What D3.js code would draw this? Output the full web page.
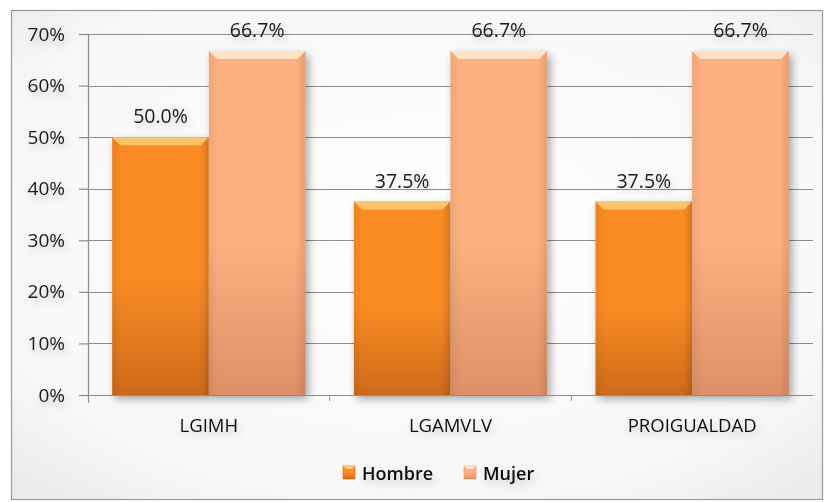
<!DOCTYPE html>
<html>
<head>
<meta charset="utf-8">
<script src="https://cdn.jsdelivr.net/npm/d3@7"></script>
<style>
  body { margin: 0; background: #fff; }
  svg { display: block; font-family: "Open Sans", "DejaVu Sans", sans-serif; }
</style>
</head>
<body>
<svg id="chart" width="825" height="502"></svg>
<script>
var categories = ["LGIMH", "LGAMVLV", "PROIGUALDAD"];
var seriesNames = ["Hombre", "Mujer"];
var hombre = [0.500, 0.375, 0.375];
var mujer = [0.667, 0.667, 0.667];
var yTicks = [0, 0.1, 0.2, 0.3, 0.4, 0.5, 0.6, 0.7];

var svg = d3.select("#chart");
var margin = { top: 34, right: 12, bottom: 107, left: 88 };
var width = 813 - margin.left;
var height = 395 - margin.top;

var colors = {
  Hombre: { top: "#ffc46a", main: "#f98b24", dark: "#cd6a1a" },
  Mujer: { top: "#ffe2c4", main: "#fdb07f", dark: "#dd9068" }
};

var defs = svg.append("defs");

// soft background like the spreadsheet chart area
var bg = defs.append("radialGradient").attr("id", "bg")
    .attr("cx", "50%").attr("cy", "45%").attr("r", "70%");
bg.append("stop").attr("offset", "0%").attr("stop-color", "#ffffff");
bg.append("stop").attr("offset", "80%").attr("stop-color", "#f7f7f7");
bg.append("stop").attr("offset", "100%").attr("stop-color", "#ececec");

seriesNames.forEach(function (s) {
  var g = defs.append("linearGradient").attr("id", "grad-" + s)
      .attr("x1", 0).attr("y1", 0).attr("x2", 0).attr("y2", 1);
  g.append("stop").attr("offset", "0%").attr("stop-color", colors[s].main);
  g.append("stop").attr("offset", "55%").attr("stop-color", colors[s].main);
  g.append("stop").attr("offset", "100%").attr("stop-color", colors[s].dark);
  var h = defs.append("linearGradient").attr("id", "side-" + s)
      .attr("x1", 0).attr("y1", 0).attr("x2", 1).attr("y2", 0);
  h.append("stop").attr("offset", "0%").attr("stop-color", "#000").attr("stop-opacity", 0.06);
  h.append("stop").attr("offset", "10%").attr("stop-color", "#000").attr("stop-opacity", 0);
  h.append("stop").attr("offset", "90%").attr("stop-color", "#000").attr("stop-opacity", 0);
  h.append("stop").attr("offset", "100%").attr("stop-color", "#000").attr("stop-opacity", 0.1);
});

var shadow = defs.append("filter").attr("id", "shadow")
    .attr("x", "-20%").attr("y", "-20%").attr("width", "150%").attr("height", "140%");
shadow.append("feGaussianBlur").attr("in", "SourceAlpha").attr("stdDeviation", 4);
shadow.append("feOffset").attr("dx", 3).attr("dy", 4).attr("result", "b");
shadow.append("feComponentTransfer").append("feFuncA").attr("type", "linear").attr("slope", 0.35);
var merge = shadow.append("feMerge");
merge.append("feMergeNode");
merge.append("feMergeNode").attr("in", "SourceGraphic");

var textGlow = defs.append("filter").attr("id", "glow")
    .attr("x", "-30%").attr("y", "-60%").attr("width", "170%").attr("height", "230%");
textGlow.append("feGaussianBlur").attr("in", "SourceAlpha").attr("stdDeviation", 4);
textGlow.append("feOffset").attr("dx", 2).attr("dy", 4);
textGlow.append("feComponentTransfer").append("feFuncA").attr("type", "linear").attr("slope", 0.2);
var m2 = textGlow.append("feMerge");
m2.append("feMergeNode");
m2.append("feMergeNode").attr("in", "SourceGraphic");

svg.append("rect")
    .attr("x", 11.5).attr("y", 10.5).attr("width", 811).attr("height", 489)
    .attr("fill", "url(#bg)").attr("stroke", "#9a9a9a").attr("stroke-width", 1.2);

var g = svg.append("g").attr("transform", "translate(" + margin.left + "," + margin.top + ")");

var x0 = d3.scaleBand().domain(categories).range([0, width]).paddingInner(0.2).paddingOuter(0.1);
var x1 = d3.scaleBand().domain(seriesNames).range([0, x0.bandwidth()]);
var y = d3.scaleLinear().domain([0, 0.7]).range([height, 0]);

// gridlines
g.append("g").selectAll("line").data(yTicks.slice(1)).join("line")
    .attr("x1", 0).attr("x2", width)
    .attr("y1", function (d) { return Math.round(y(d)) + 0.5; })
    .attr("y2", function (d) { return Math.round(y(d)) + 0.5; })
    .attr("stroke", "#8c8c8c").attr("stroke-width", 1.2);

var yAxis = g.append("g")
    .call(d3.axisLeft(y).tickValues(yTicks).tickFormat(d3.format(".0%")).tickSize(9).tickPadding(14));
yAxis.select(".domain").attr("stroke", "#8c8c8c").attr("stroke-width", 1.2).attr("d", "M0.5,0V" + (height + 8));
yAxis.selectAll(".tick line").attr("stroke", "#8c8c8c").attr("stroke-width", 1.2);
yAxis.selectAll(".tick text").attr("font-size", 19).attr("fill", "#1c1c1c")
    .attr("font-family", "'Open Sans', sans-serif").attr("filter", "url(#glow)");

var data = categories.map(function (c, i) {
  return { cat: c, values: [{ s: "Hombre", v: hombre[i] }, { s: "Mujer", v: mujer[i] }] };
});

var groups = g.selectAll(".group").data(data).join("g")
    .attr("class", "group")
    .attr("transform", function (d) { return "translate(" + x0(d.cat) + ",0)"; });

var bars = groups.selectAll(".bar").data(function (d) { return d.values; }).join("g")
    .attr("class", "bar").attr("filter", "url(#shadow)");

bars.append("rect")
    .attr("x", function (d) { return x1(d.s); })
    .attr("y", function (d) { return y(d.v); })
    .attr("width", x1.bandwidth())
    .attr("height", function (d) { return height - y(d.v); })
    .attr("fill", function (d) { return "url(#grad-" + d.s + ")"; });
bars.append("rect")
    .attr("x", function (d) { return x1(d.s); })
    .attr("y", function (d) { return y(d.v); })
    .attr("width", x1.bandwidth())
    .attr("height", function (d) { return height - y(d.v); })
    .attr("fill", function (d) { return "url(#side-" + d.s + ")"; });
// bevel at the top of each bar
bars.append("path")
    .attr("d", function (d) {
      var xl = x1(d.s), xr = xl + x1.bandwidth(), yt = y(d.v), b = 8;
      return "M" + xl + "," + yt + "H" + xr + "L" + (xr - b) + "," + (yt + b) + "H" + (xl + b) + "Z";
    })
    .attr("fill", function (d) { return colors[d.s].top; });

// value labels
groups.selectAll(".val").data(function (d) { return d.values; }).join("text")
    .attr("class", "val")
    .attr("x", function (d) { return x1(d.s) + x1.bandwidth() / 2; })
    .attr("y", function (d) { return y(d.v) - 14; })
    .attr("text-anchor", "middle")
    .attr("font-size", 19.5).attr("fill", "#1c1c1c").attr("filter", "url(#glow)")
    .text(function (d) { return d3.format(".1%")(d.v); });

// category axis
var xAxis = g.append("g").attr("transform", "translate(0," + height + ")")
    .call(d3.axisBottom(x0).tickSize(0).tickPadding(24));
xAxis.select(".domain").attr("stroke", "#8c8c8c").attr("stroke-width", 1.2);
xAxis.selectAll(".tick text").attr("font-size", 18.5).attr("fill", "#111")
    .attr("font-family", "'Open Sans', sans-serif").attr("filter", "url(#glow)");
// small tick marks between groups
g.append("g").selectAll("line").data(categories.slice(1)).join("line")
    .attr("x1", function (d) { return x0(d) - x0.step() * 0.1; })
    .attr("x2", function (d) { return x0(d) - x0.step() * 0.1; })
    .attr("y1", height).attr("y2", height + 6)
    .attr("stroke", "#8c8c8c");

// legend
var legend = svg.append("g").attr("transform", "translate(343,473)");
var legendX = [0, 121];
seriesNames.forEach(function (s, i) {
  var lg = legend.append("g").attr("transform", "translate(" + legendX[i] + ",0)");
  lg.append("rect").attr("x", 0).attr("y", -7).attr("width", 12).attr("height", 13)
      .attr("fill", "url(#grad-" + s + ")").attr("stroke", colors[s].dark).attr("stroke-width", 0.6);
  lg.append("path")
      .attr("d", "M0,-7H12L9,-4H3Z").attr("fill", colors[s].top);
  lg.append("text").attr("x", 19).attr("y", 7)
      .attr("font-size", 18).attr("font-weight", 600).attr("fill", "#111").attr("filter", "url(#glow)")
      .text(s);
});
</script>
</body>
</html>
